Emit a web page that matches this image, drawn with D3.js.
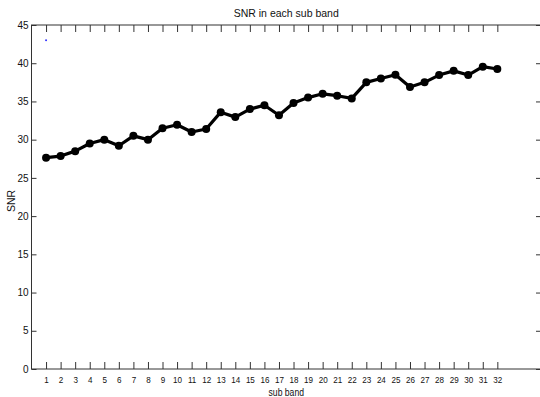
<!DOCTYPE html>
<html>
<head>
<meta charset="utf-8">
<script src="https://cdn.jsdelivr.net/npm/d3@7"></script>
<style>
  html, body { margin: 0; padding: 0; background: #fff; }
  svg { display: block; }
  text { font-family: "Liberation Sans", Arial, sans-serif; fill: #111; }
</style>
</head>
<body>
<svg id="chart" width="540" height="397"></svg>
<script>
// Data
const subBands = d3.range(1, 33);
const snrValues = [27.65, 27.85, 28.5, 29.5, 30.0, 29.2, 30.5, 30.0, 31.5, 31.95, 31.0, 31.4,
                   33.6, 32.95, 34.0, 34.5, 33.2, 34.8, 35.5, 36.0, 35.75, 35.4, 37.5, 38.0,
                   38.5, 36.9, 37.5, 38.45, 39.0, 38.45, 39.55, 39.25];
const markerPoint = [{ x: 1, y: 43 }];
const yTicks = [0, 5, 10, 15, 20, 25, 30, 35, 40, 45];
const xTicks = d3.range(1, 33);
const titleText = "SNR in each sub band";
const xLabel = "sub band";
const yLabel = "SNR";

const svg = d3.select("#chart");
const mLeft = 31.5, mRight = 541, mTop = 25, mBottom = 369;

const x = d3.scaleLinear().domain([0, 35]).range([mLeft, mRight]);
const y = d3.scaleLinear().domain([0, 45]).range([mBottom, mTop]);

const axisColor = "#333";

// Box
svg.append("rect")
  .attr("x", mLeft).attr("y", mTop)
  .attr("width", mRight - mLeft).attr("height", mBottom - mTop)
  .attr("fill", "none").attr("stroke", axisColor).attr("stroke-width", 1);

// Axes
const xAxisB = d3.axisBottom(x).tickValues(xTicks).tickSizeInner(-7).tickSizeOuter(0).tickPadding(7);
const gxb = svg.append("g").attr("transform", `translate(0,${mBottom})`).call(xAxisB);
const xAxisT = d3.axisTop(x).tickValues(xTicks).tickSizeInner(-7).tickSizeOuter(0).tickFormat("");
const gxt = svg.append("g").attr("transform", `translate(0,${mTop})`).call(xAxisT);
const yAxisL = d3.axisLeft(y).tickValues(yTicks).tickSizeInner(-5).tickSizeOuter(0).tickPadding(3);
const gyl = svg.append("g").attr("transform", `translate(${mLeft},0)`).call(yAxisL);
const yAxisR = d3.axisRight(y).tickValues(yTicks).tickSizeInner(-5).tickSizeOuter(0).tickFormat("");
const gyr = svg.append("g").attr("transform", `translate(${mRight},0)`).call(yAxisR);

[gxb, gxt, gyl, gyr].forEach(g => {
  g.select(".domain").remove();
  g.selectAll(".tick line").attr("stroke", axisColor);
  g.selectAll(".tick text")
    .attr("font-family", '"Liberation Sans", Arial, sans-serif')
    .attr("fill", "#111");
});
gyl.selectAll(".tick text").attr("font-size", 10);
gxb.selectAll(".tick text").attr("font-size", 9.5).attr("transform", "scale(0.85,1)");

// Line
const data = subBands.map((b, i) => ({ x: b, y: snrValues[i] }));
svg.append("path")
  .datum(data)
  .attr("fill", "none")
  .attr("stroke", "#000")
  .attr("stroke-width", 3.2)
  .attr("stroke-linejoin", "round")
  .attr("d", d3.line().x(d => x(d.x)).y(d => y(d.y)));

svg.append("g").selectAll("circle")
  .data(data).join("circle")
  .attr("cx", d => x(d.x)).attr("cy", d => y(d.y))
  .attr("r", 4).attr("fill", "#000");

// Blue dot
svg.append("g").selectAll("circle")
  .data(markerPoint).join("circle")
  .attr("cx", d => x(d.x)).attr("cy", d => y(d.y))
  .attr("r", 1).attr("fill", "#3333ff");

// Title and labels
svg.append("text")
  .attr("x", (mLeft + mRight) / 2).attr("y", 17)
  .attr("text-anchor", "middle").attr("font-size", 10.5)
  .text(titleText);

svg.append("text")
  .attr("transform", `translate(${(mLeft + mRight) / 2},396) scale(0.82,1)`)
  .attr("text-anchor", "middle").attr("font-size", 10.5)
  .text(xLabel);

svg.append("text")
  .attr("transform", `translate(15,${(mTop + mBottom) / 2 + 4}) rotate(-90)`)
  .attr("text-anchor", "middle").attr("font-size", 10.5)
  .text(yLabel);
</script>
</body>
</html>
